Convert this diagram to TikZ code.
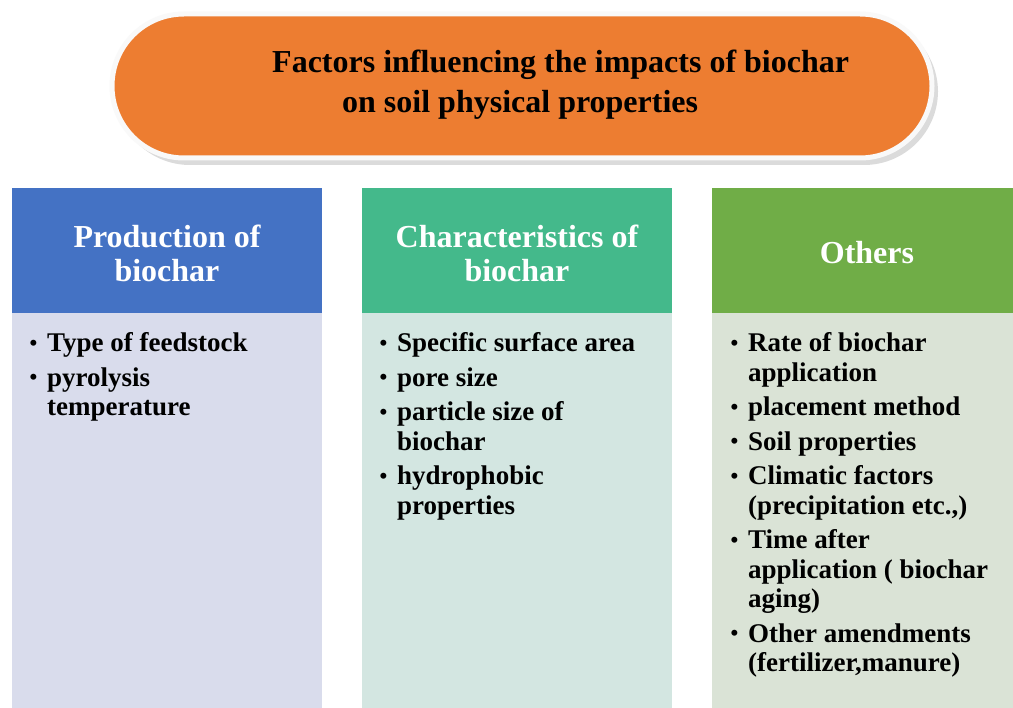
\documentclass[tikz,border=0pt]{standalone}
\usepackage{fontspec}
\setmainfont{Liberation Serif}
\definecolor{torange}{HTML}{ED7D31}
\definecolor{hblue}{HTML}{4472C4}
\definecolor{hteal}{HTML}{44B98B}
\definecolor{hgreen}{HTML}{70AD47}
\definecolor{bblue}{HTML}{D9DCEC}
\definecolor{bteal}{HTML}{D3E6E1}
\definecolor{bgreen}{HTML}{DAE3D6}
\newcommand\bitem[1]{\par\hangindent=19pt\hangafter=1\noindent\hbox to 19pt{\hspace{1.5pt}\raisebox{1.5pt}{\fontsize{22}{22}\selectfont\textbullet}\hfil}#1}
\newcommand\blist[1]{\parbox[t]{300pt}{\raggedright\setlength\parskip{5pt}\fontsize{27}{29.5}\selectfont\bfseries #1}}
\begin{document}
\begin{tikzpicture}[x=1pt,y=-1pt,
  titletext/.style={inner sep=0pt, font=\fontsize{32}{36}\selectfont\bfseries, text=black},
  headtext/.style={inner sep=0pt, align=center, text=white, font=\fontsize{32}{34}\selectfont\bfseries},
  listtext/.style={inner sep=0pt, anchor=base west, text=black}]
\useasboundingbox (0,0) rectangle (1013,708);
\fill[white] (0,0) rectangle (1013,708);
% title pill
\fill[black!14, rounded corners=74pt] (116,18) rectangle (938,165);
\draw[line width=5pt, draw=gray!5, fill=torange, rounded corners=72pt] (112,14) rectangle (932,158);
\node[titletext, anchor=base west] (t1) at (272,73) {Factors influencing the impacts of biochar};
\node[titletext, anchor=base west] (t2) at (342,113) {on soil physical properties};
% columns
\fill[hblue] (12,188) rectangle (322,313);
\fill[bblue] (12,313) rectangle (322,708);
\fill[hteal] (362,188) rectangle (672,313);
\fill[bteal] (362,313) rectangle (672,708);
\fill[hgreen] (712,188) rectangle (1013,313);
\fill[bgreen] (712,313) rectangle (1013,708);
\node[headtext] (h1) at (167,253) {Production of\\biochar};
\node[headtext] (h2) at (517,253) {Characteristics of\\biochar};
\node[headtext] (h3) at (867,253) {Others};
\node[listtext] (l1) at (28,352) {\blist{\bitem{Type of feedstock}\bitem{pyrolysis\newline temperature}}};
\node[listtext] (l2) at (378,352) {\blist{\bitem{Specific surface area}\bitem{pore size}\bitem{particle size of\newline biochar}\bitem{hydrophobic\newline properties}}};
\node[listtext] (l3) at (729,352) {\blist{\bitem{Rate of biochar\newline application}\bitem{placement method}\bitem{Soil properties}\bitem{Climatic factors\newline (precipitation etc.,)}\bitem{Time after\newline application ( biochar\newline aging)}\bitem{Other amendments\newline (fertilizer,manure)}}};
\end{tikzpicture}
\end{document}
